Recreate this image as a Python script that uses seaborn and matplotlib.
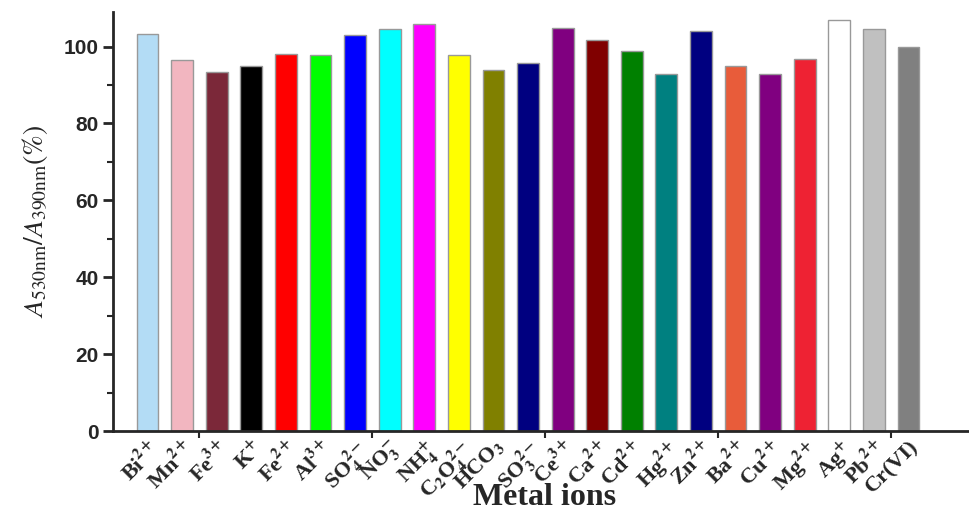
import matplotlib
matplotlib.use("Agg")
import matplotlib.pyplot as plt
import seaborn as sns
import pandas as pd
from matplotlib.ticker import FixedLocator

ions = ["Bi2+", "Mn2+", "Fe3+", "K+", "Fe2+", "Al3+", "SO42-", "NO3-", "NH4+", "C2O42-",
        "HCO3", "SO32-", "Ce3+", "Ca2+", "Cd2+", "Hg2+", "Zn2+", "Ba2+", "Cu2+", "Mg2+",
        "Ag+", "Pb2+", "Cr(VI)"]
values = [103.4, 96.6, 93.5, 95.0, 98.2, 97.7, 102.9, 104.5, 106.0, 97.9,
          94.0, 95.8, 104.8, 101.8, 98.8, 92.8, 104.0, 94.9, 92.8, 96.9,
          107.0, 104.5, 100.0]
tick_labels = [r"Bi$^{2+}$", r"Mn$^{2+}$", r"Fe$^{3+}$", r"K$^{+}$", r"Fe$^{2+}$", r"Al$^{3+}$",
               r"SO$_4^{2-}$", r"NO$_3^{-}$", r"NH$_4^{+}$", r"C$_2$O$_4^{2-}$", r"HCO$_3$",
               r"SO$_3^{2-}$", r"Ce$^{3+}$", r"Ca$^{2+}$", r"Cd$^{2+}$", r"Hg$^{2+}$", r"Zn$^{2+}$",
               r"Ba$^{2+}$", r"Cu$^{2+}$", r"Mg$^{2+}$", r"Ag$^{+}$", r"Pb$^{2+}$", r"Cr(VI)"]
colors = ["#b3dcf5", "#f2b6c0", "#7b2839", "#000000", "#ff0000", "#00ff00", "#0000ff", "#00ffff",
          "#ff00ff", "#ffff00", "#808000", "#000080", "#800080", "#800000", "#008000", "#008080",
          "#000080", "#e85c3a", "#800080", "#ee2233", "#ffffff", "#c0c0c0", "#808080"]

sns.set_style("ticks")
plt.rcParams["mathtext.fontset"] = "stix"
plt.rcParams["mathtext.default"] = "bf"

df = pd.DataFrame({"ion": ions, "value": values})

fig = plt.figure(figsize=(9.69, 5.17), dpi=100)
ax = fig.add_axes([0.1166, 0.1663, 0.8834, 0.8105])

sns.barplot(data=df, x="ion", y="value", hue="ion", palette=colors, legend=False,
            width=0.63, edgecolor="#999999", linewidth=1.0, ax=ax, saturation=1)

ax.set_xlim(-1, 23.75)
ax.set_ylim(0, 109)
ax.spines["top"].set_visible(False)
ax.spines["right"].set_visible(False)
ax.spines["left"].set_linewidth(2)
ax.spines["bottom"].set_linewidth(2)

ax.set_yticks([0, 20, 40, 60, 80, 100])
ax.yaxis.set_minor_locator(FixedLocator([10, 30, 50, 70, 90]))
ax.tick_params(axis="y", which="major", length=7, width=2, direction="out", labelsize=15)
ax.tick_params(axis="y", which="minor", length=4, width=1.5, direction="out")
for lab in ax.get_yticklabels():
    lab.set_fontfamily("Liberation Sans")
    lab.set_fontweight("bold")

ax.set_xticks(range(len(ions)))
ax.set_xticklabels(tick_labels, rotation=45, ha="right", rotation_mode="anchor",
                   fontfamily="Liberation Serif", fontweight="bold", fontsize=16)
ax.tick_params(axis="x", which="major", length=0, pad=4)
ax.xaxis.set_minor_locator(FixedLocator([1.5, 4, 6.5, 9, 11.5, 14, 16.5, 19, 21.5]))
ax.tick_params(axis="x", which="minor", length=5, width=1.5, direction="out")

ax.set_xlabel("")
fig.text(0.562, 0.038, "Metal ions", ha="center", va="center",
         fontfamily="Liberation Serif", fontweight="bold", fontsize=23)
ax.set_ylabel(r"$\mathit{A}_{\mathrm{530nm}}\mathrm{/}\mathit{A}_{\mathrm{390nm}}\mathrm{(\%)}$",
              fontsize=20, labelpad=10)

fig.savefig("out.png", dpi=100)
